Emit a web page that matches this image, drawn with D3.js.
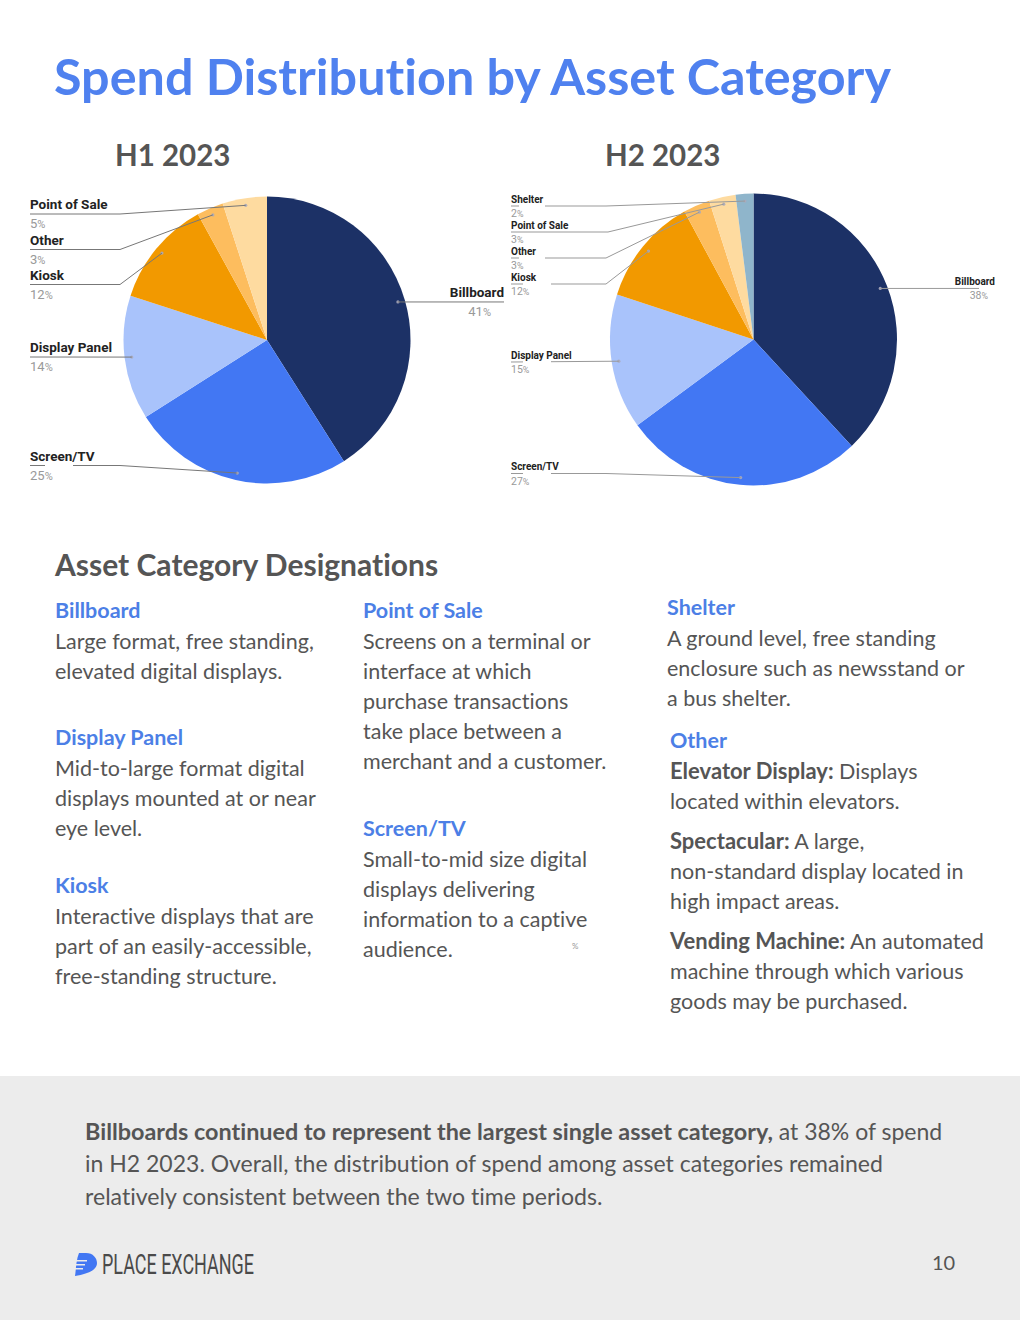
<!DOCTYPE html>
<html>
<head>
<meta charset="utf-8">
<style>
  html, body { margin: 0; padding: 0; background: #fff; }
  svg { display: block; }
  text { font-family: Lato, sans-serif; fill: #555; font-variant-ligatures: none; }
  .pieName { font-family: Roboto, sans-serif; font-weight: 700; fill: #222; }
  .piePct { font-family: Roboto, sans-serif; fill: #999; }
</style>
</head>
<body>
<script src="https://d3js.org/d3.v7.min.js"></script>
<script>
// chart values
var h1Categories = ["Billboard", "Screen/TV", "Display Panel", "Kiosk", "Other", "Point of Sale"];
var h1Values = [41, 25, 14, 12, 3, 5];
var h2Categories = ["Billboard", "Screen/TV", "Display Panel", "Kiosk", "Other", "Point of Sale", "Shelter"];
var h2Values = [38, 27, 15, 12, 3, 3, 2];

var colorDomain = ["Billboard", "Screen/TV", "Display Panel", "Kiosk", "Other", "Point of Sale", "Shelter"];
var colorRange = ["#1c3166", "#4277f3", "#a9c3fb", "#f29900", "#fdbd5e", "#fedba0", "#8fb5cb"];
var color = d3.scaleOrdinal().domain(colorDomain).range(colorRange);

// label placement: y of the leader line, elbow x, gap in the line under the percent text
var h1Labels = {
  "Point of Sale": {lineY: 214, elbow: 120, gap: null},
  "Other": {lineY: 249.5, elbow: 120, gap: null},
  "Kiosk": {lineY: 284.5, elbow: 120, gap: null},
  "Display Panel": {lineY: 357, elbow: null, gap: null},
  "Screen/TV": {lineY: 465.5, elbow: 120, gap: [45, 73]}
};
var h2Labels = {
  "Shelter": {lineY: 206, elbow: 606, gap: [519, 545]},
  "Point of Sale": {lineY: 232, elbow: 608, gap: null},
  "Other": {lineY: 258, elbow: 606, gap: [519, 545]},
  "Kiosk": {lineY: 284, elbow: 606, gap: [523, 551]},
  "Display Panel": {lineY: 362, elbow: null, gap: [523, 551]},
  "Screen/TV": {lineY: 473.5, elbow: 606, gap: [523, 551]}
};

var svg = d3.select("body").append("svg")
  .attr("width", 1020)
  .attr("height", 1320);

function drawPie(cx, cy, rx, ry, cats, vals, labels, o) {
  var pie = d3.pie().sort(null).value(function(d) { return d.v; });
  var rows = cats.map(function(c, i) { return {c: c, v: vals[i]}; });
  var arcs = pie(rows);
  var arc = d3.arc().innerRadius(0).outerRadius(rx);
  var g = svg.append("g").attr("transform", "translate(" + cx + "," + cy + ") scale(1," + (ry / rx) + ")");
  g.selectAll("path").data(arcs).enter().append("path")
    .attr("d", arc)
    .attr("fill", function(d) { return color(d.data.c); });

  var dotArc = d3.arc().innerRadius(rx * 0.95).outerRadius(rx * 0.95);
  var lineStyle = function(s) {
    return s.attr("fill", "none").attr("stroke", o.lineColor).attr("stroke-width", 1);
  };
  arcs.forEach(function(d) {
    var p = dotArc.centroid(d);
    var dx = cx + p[0], dy = cy + p[1] * ry / rx;
    var name = d.data.c, pct = d.data.v;
    var lab = labels[name];
    svg.append("circle").attr("cx", dx).attr("cy", dy).attr("r", 1.6).attr("fill", "#aab").attr("opacity", 0.9);

    if (name === "Billboard") {
      lineStyle(svg.append("path")).attr("d", "M" + dx + "," + dy + "H" + o.billEnd);
      svg.append("text").attr("class", "pieName").attr("font-size", o.fs)
        .attr("x", o.billTextX).attr("y", dy - o.nameUp).attr("text-anchor", "end").text(name);
      var pt = svg.append("text").attr("class", "piePct").attr("font-size", o.pctFs)
        .attr("x", o.billPctX).attr("y", dy + o.pctDown).attr("text-anchor", "end");
      pt.append("tspan").text(pct);
      pt.append("tspan").attr("font-size", o.pctFs * 0.85).text("%");
      return;
    }

    var pts = lab.elbow
      ? [[o.labelX, lab.lineY], [lab.elbow, lab.lineY], [dx, dy]]
      : [[o.labelX, lab.lineY], [dx, dy]];
    lineStyle(svg.append("path")).attr("d", d3.line()(pts));
    if (lab.gap) {
      svg.append("rect").attr("x", lab.gap[0]).attr("y", lab.lineY - 2)
        .attr("width", lab.gap[1] - lab.gap[0]).attr("height", 4).attr("fill", "#fff");
    }
    svg.append("text").attr("class", "pieName").attr("font-size", o.fs)
      .attr("x", o.labelX).attr("y", lab.lineY - o.nameUp).text(name);
    var pp = svg.append("text").attr("class", "piePct").attr("font-size", o.pctFs)
      .attr("x", o.labelX).attr("y", lab.lineY + o.pctDown);
    pp.append("tspan").text(pct);
    pp.append("tspan").attr("font-size", o.pctFs * 0.85).text("%");
  });
}

// page text
svg.append("text").attr("x", 54).attr("y", 95).attr("font-size", 50.3).attr("font-weight", 700)
  .style("fill", "#4f81ef").text("Spend Distribution by Asset Category");
svg.append("text").attr("x", 115).attr("y", 166).attr("font-size", 29.5).attr("font-weight", 700).text("H1 2023");
svg.append("text").attr("x", 605).attr("y", 166).attr("font-size", 29.5).attr("font-weight", 700).text("H2 2023");

drawPie(267, 340, 143.5, 143.5, h1Categories, h1Values, h1Labels,
  {labelX: 30, fs: 13.5, pctFs: 13, nameUp: 5, pctDown: 14, billEnd: 504, billTextX: 504, billPctX: 491, lineColor: "#777"});
drawPie(753.5, 339.5, 143.5, 146, h2Categories, h2Values, h2Labels,
  {labelX: 511, fs: 10, pctFs: 10.5, nameUp: 3.5, pctDown: 11, billEnd: 979, billTextX: 995, billPctX: 988, lineColor: "#999"});

svg.append("text").attr("x", 55).attr("y", 576).attr("font-size", 30).attr("font-weight", 700).text("Asset Category Designations");

// heading, x, baseline
var headings = [
  ["Billboard", 55, 618], ["Display Panel", 55, 745], ["Kiosk", 55, 893],
  ["Point of Sale", 363, 618], ["Screen/TV", 363, 836],
  ["Shelter", 667, 615], ["Other", 670, 748]
];
var bodyLines = [
  ["Large format, free standing,", 55, 649], ["elevated digital displays.", 55, 679],
  ["Mid-to-large format digital", 55, 776], ["displays mounted at or near", 55, 806], ["eye level.", 55, 836],
  ["Interactive displays that are", 55, 924], ["part of an easily-accessible,", 55, 954], ["free-standing structure.", 55, 984],
  ["Screens on a terminal or", 363, 649], ["interface at which", 363, 679], ["purchase transactions", 363, 709],
  ["take place between a", 363, 739], ["merchant and a customer.", 363, 769],
  ["Small-to-mid size digital", 363, 867], ["displays delivering", 363, 897], ["information to a captive", 363, 927], ["audience.", 363, 957],
  ["A ground level, free standing", 667, 646], ["enclosure such as newsstand or", 667, 676], ["a bus shelter.", 667, 706],
  ["located within elevators.", 670, 809],
  ["non-standard display located in", 670, 879], ["high impact areas.", 670, 909],
  ["machine through which various", 670, 979], ["goods may be purchased.", 670, 1009]
];
// bold lead-in, rest of the line, x, baseline
var leadLines = [
  ["Elevator Display:", " Displays", 670, 779],
  ["Spectacular:", " A large,", 670, 849],
  ["Vending Machine:", " An automated", 670, 949]
];

svg.selectAll(".head").data(headings).enter().append("text").attr("class", "head")
  .attr("x", function(d) { return d[1]; }).attr("y", function(d) { return d[2]; })
  .attr("font-size", 21.5).attr("font-weight", 700).style("fill", "#4c7fe6")
  .text(function(d) { return d[0]; });
svg.selectAll(".body").data(bodyLines).enter().append("text").attr("class", "body")
  .attr("x", function(d) { return d[1]; }).attr("y", function(d) { return d[2]; })
  .attr("font-size", 21.5)
  .text(function(d) { return d[0]; });
leadLines.forEach(function(d) {
  var t = svg.append("text").attr("x", d[2]).attr("y", d[3]).attr("font-size", 21.5).attr("xml:space", "preserve");
  t.append("tspan").attr("font-weight", 700).attr("font-size", 22).text(d[0]);
  t.append("tspan").text(d[1]);
});
svg.append("text").attr("x", 572).attr("y", 949).attr("font-size", 8).style("fill", "#999").text("%");

// bottom band
svg.append("rect").attr("x", 0).attr("y", 1076).attr("width", 1020).attr("height", 244).attr("fill", "#ececec");
var t1 = svg.append("text").attr("x", 85).attr("y", 1140).attr("font-size", 23).attr("xml:space", "preserve");
t1.append("tspan").attr("font-weight", 700).attr("font-size", 23.4).text("Billboards continued to represent the largest single asset category,");
t1.append("tspan").text(" at 38% of spend");
svg.append("text").attr("x", 85).attr("y", 1172).attr("font-size", 23).text("in H2 2023. Overall, the distribution of spend among asset categories remained");
svg.append("text").attr("x", 85).attr("y", 1205).attr("font-size", 23.1).text("relatively consistent between the two time periods.");

// logo
var logo = svg.append("g").attr("transform", "translate(75,1252)");
logo.append("path").attr("fill", "#4277f3")
  .attr("d", "M4,1 H11 C18,1 22,6 22,11 C22,18 13,22 0,24 C1,18 1,8 4,1 Z");
[[0, 8, 12], [0, 12, 10], [0, 16, 8]].forEach(function(s) {
  logo.append("rect").attr("x", s[0]).attr("y", s[1]).attr("width", s[2]).attr("height", 1.5).attr("fill", "#ececec");
});
svg.append("text").attr("x", 102).attr("y", 1274).attr("font-size", 28)
  .attr("textLength", 152).attr("lengthAdjust", "spacingAndGlyphs")
  .style("font-family", "'Liberation Sans Narrow', 'Roboto', sans-serif").style("fill", "#4a4a4a")
  .text("PLACE EXCHANGE");
svg.append("text").attr("x", 932).attr("y", 1270).attr("font-size", 20).text("10");
</script>
</body>
</html>
